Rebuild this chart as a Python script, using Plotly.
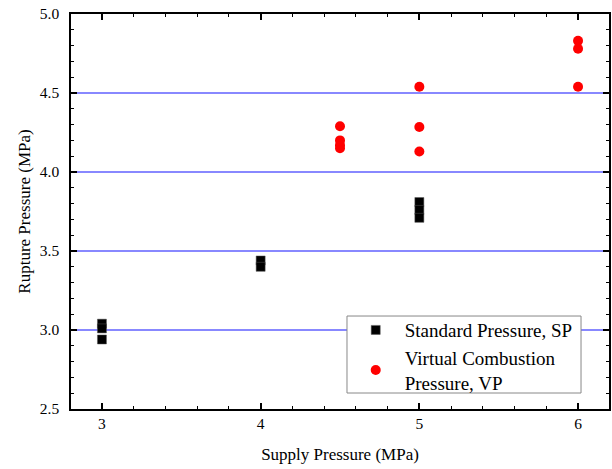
import plotly.graph_objects as go

sp_x = [3, 3, 3, 4, 4, 5, 5, 5]
sp_y = [3.04, 3.01, 2.94, 3.44, 3.40, 3.81, 3.76, 3.71]

vp_x = [4.5, 4.5, 4.5, 4.5, 5, 5, 5, 6, 6, 6]
vp_y = [4.29, 4.20, 4.17, 4.15, 4.54, 4.285, 4.13, 4.83, 4.78, 4.54]

font_family = "Liberation Serif, Times New Roman, serif"

fig = go.Figure()
fig.add_trace(go.Scatter(x=sp_x, y=sp_y, mode="markers", name="Standard Pressure, SP",
                         marker=dict(symbol="square", size=9, color="black",
                                     line=dict(width=0.5, color="#555555"))))
fig.add_trace(go.Scatter(x=vp_x, y=vp_y, mode="markers", name="Virtual Combustion<br>Pressure, VP",
                         marker=dict(symbol="circle", size=10, color="#ff0000",
                                     line=dict(width=0))))

axis_common = dict(showline=True, linecolor="black", linewidth=1.5, mirror="ticks",
                   ticks="inside", ticklen=6, tickwidth=1.5, tickcolor="black",
                   tickfont=dict(family=font_family, size=15.5, color="black"),
                   zeroline=False, automargin=False, ticklabeloverflow="allow")

fig.update_xaxes(range=[2.805, 6.195], dtick=1, tick0=3, showgrid=False,
                 minor=dict(ticks="inside", ticklen=3, tickwidth=1.2, dtick=0.2, tickcolor="black", showgrid=False),
                 title=dict(text="Supply Pressure (MPa)", font=dict(family=font_family, size=17, color="black"),
                            standoff=17),
                 **axis_common)
fig.update_yaxes(range=[2.5, 5.0], dtick=0.5, tick0=2.5, tickformat=".1f",
                 showgrid=True, gridcolor="#8888ff", gridwidth=1.5, ticklabelstandoff=7,
                 minor=dict(ticks="inside", ticklen=3, tickwidth=1.2, dtick=0.1, tickcolor="black", showgrid=False),
                 title=dict(text="Rupture Pressure (MPa)", font=dict(family=font_family, size=17, color="black"),
                            standoff=5),
                 **axis_common)

# legend frame (white box with grey border behind the legend entries)
fig.add_shape(type="rect", xref="paper", yref="paper",
              x0=0.513, x1=0.948, y0=0.0405, y1=0.2354,
              fillcolor="white", line=dict(color="#888888", width=1), layer="above")

fig.update_layout(
    width=612, height=469,
    margin=dict(l=71, r=3, t=14, b=60),
    plot_bgcolor="white", paper_bgcolor="white",
    font=dict(family=font_family, size=16, color="black"),
    legend=dict(x=0.5125, y=0.248, xanchor="left", yanchor="top",
                bgcolor="rgba(0,0,0,0)", borderwidth=0,
                font=dict(family=font_family, size=19, color="black"),
                itemwidth=48, tracegroupgap=0),
    showlegend=True,
)

fig.write_html("out.html", config={"displayModeBar": False},
               post_script="document.body.style.margin='0';document.body.style.overflow='hidden';")
